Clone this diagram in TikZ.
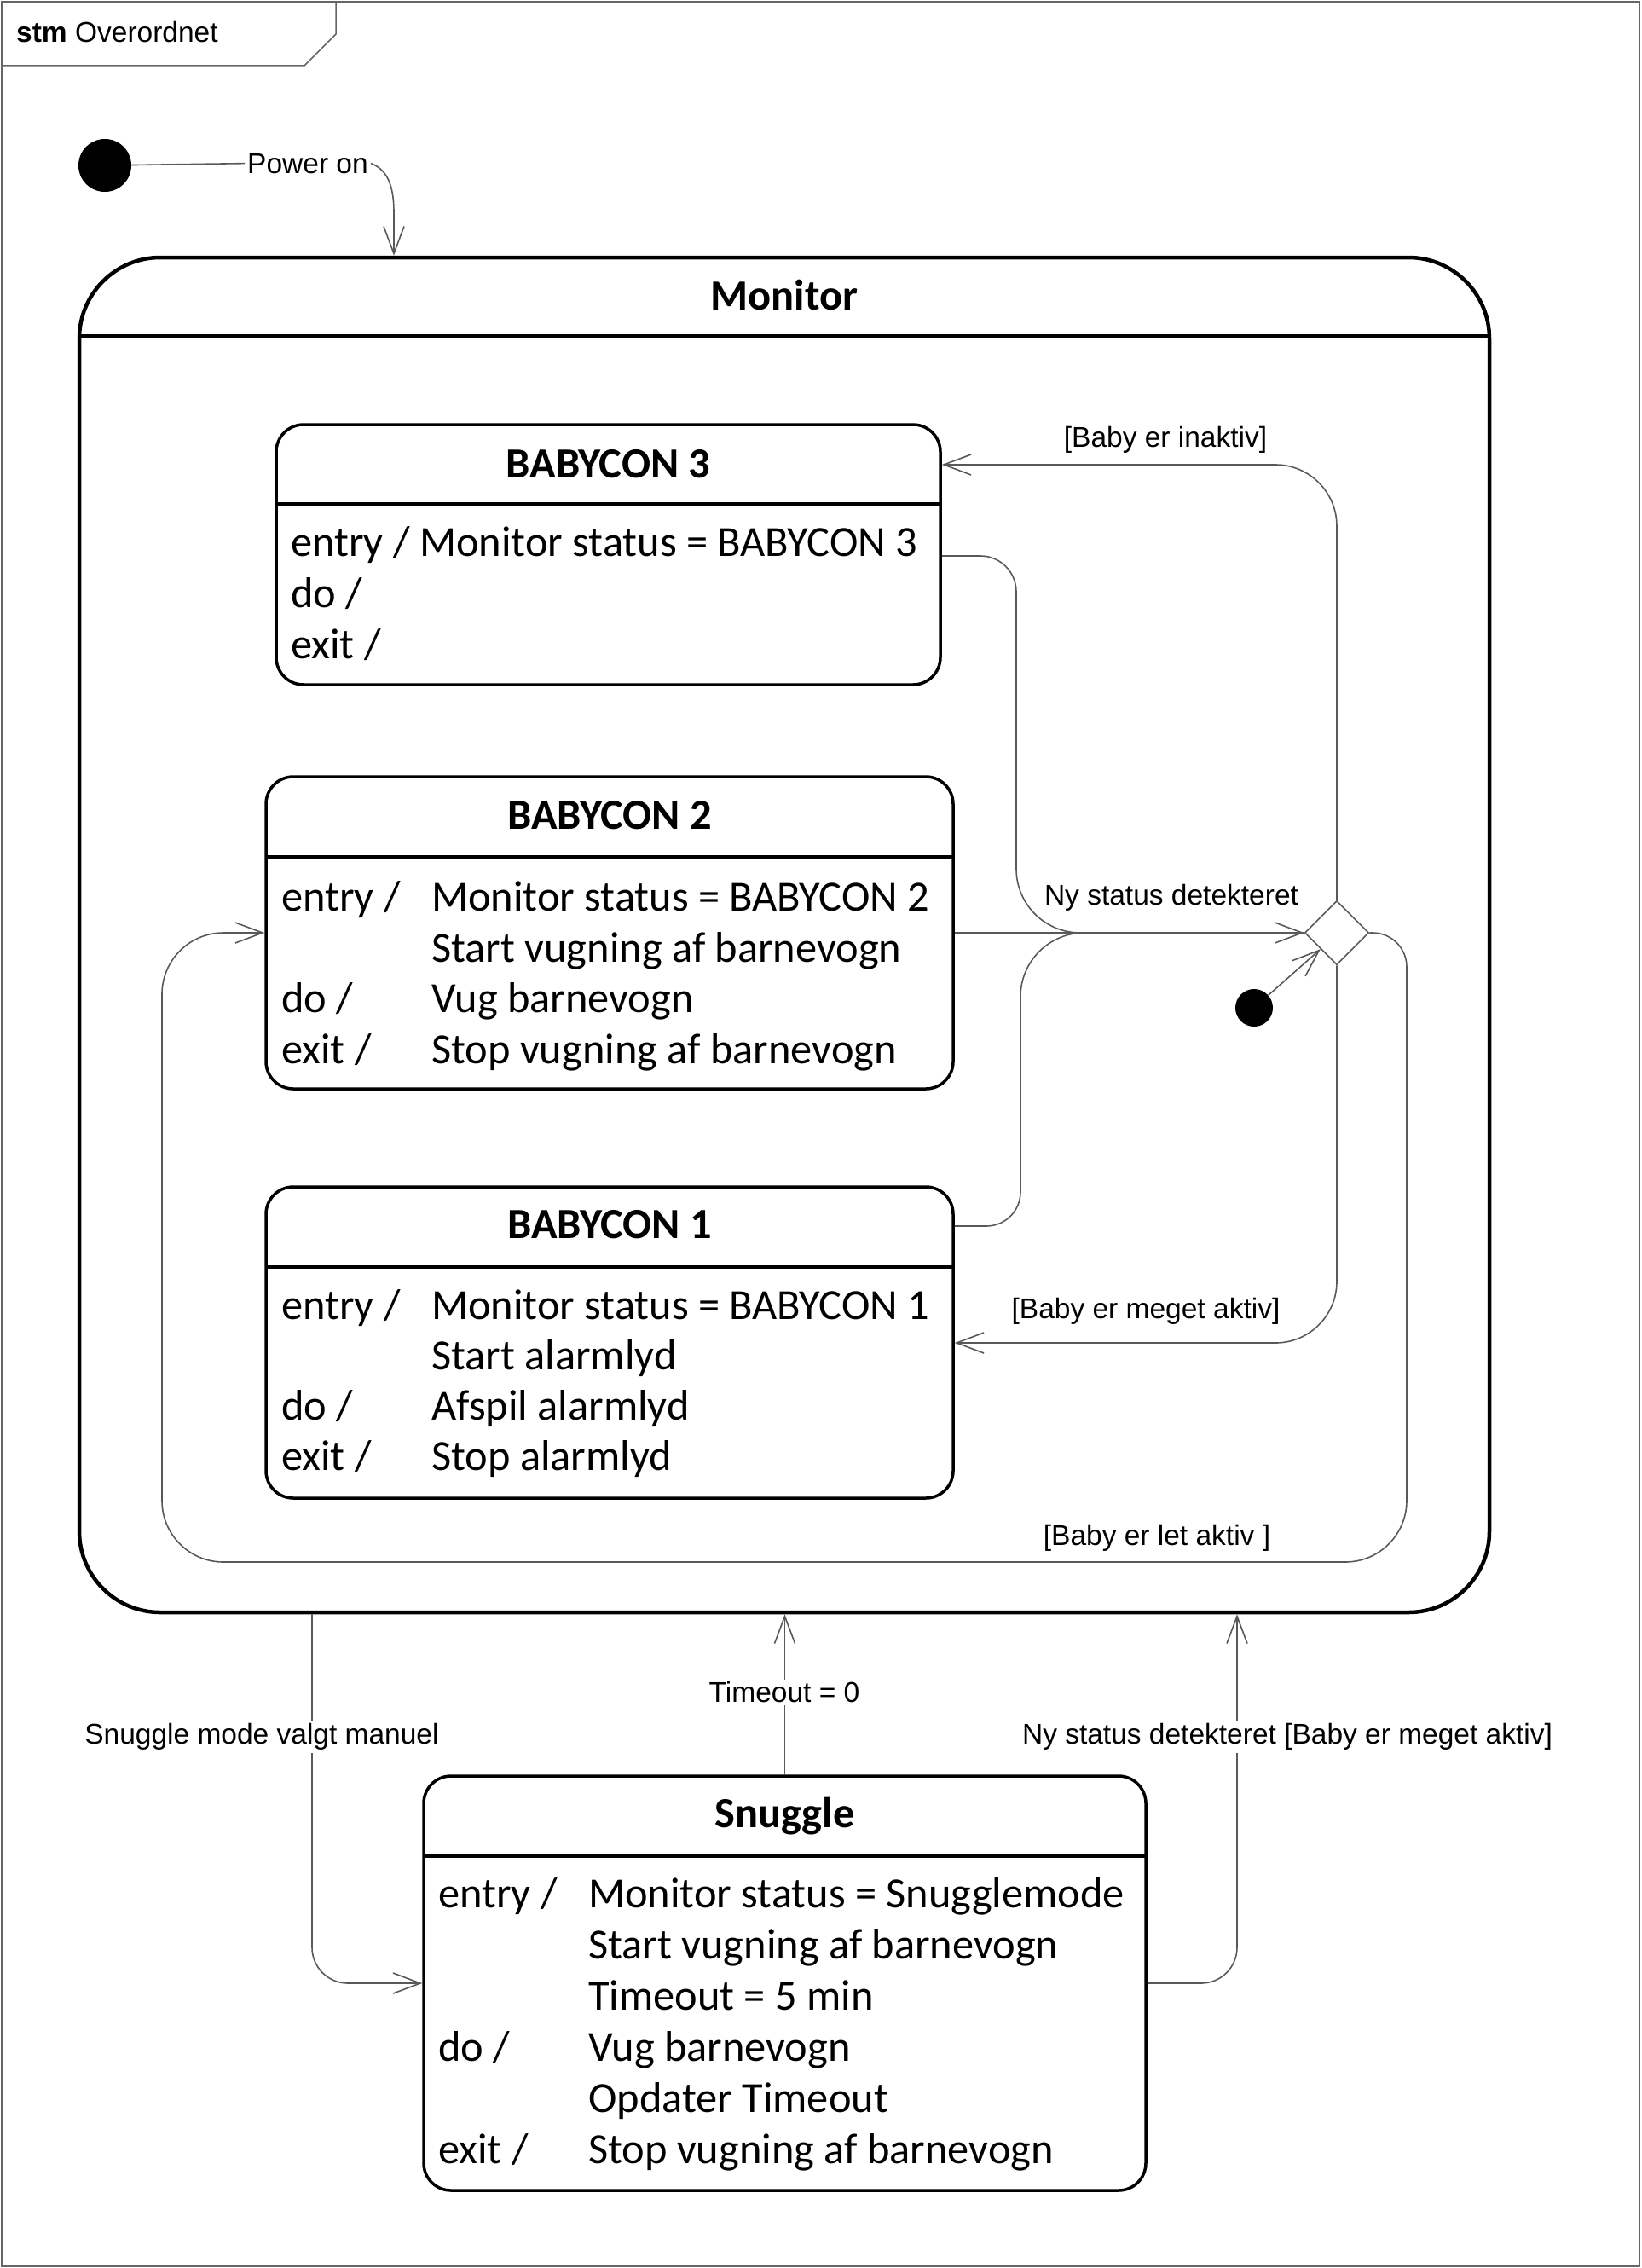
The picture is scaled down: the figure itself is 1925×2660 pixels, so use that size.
\documentclass[tikz,border=0pt]{standalone}
\usepackage{fontspec}
\setmainfont{Liberation Sans}
\newfontfamily\calib{Carlito}
\usetikzlibrary{arrows.meta,shapes.geometric}
\begin{document}
\begin{tikzpicture}[x=1pt,y=-1pt,
  lbl/.style={font=\fontsize{33.5}{40}\selectfont, inner sep=3pt},
  body/.style={font=\calib\fontsize{50.4}{60}\selectfont, anchor=base west, inner sep=0pt},
  ttl/.style={font=\calib\bfseries\fontsize{50.4}{60}\selectfont, anchor=base, inner sep=0pt},
  statebox/.style={draw, line width=3.5pt, rounded corners=32pt, inner sep=0pt},
  divline/.style={line width=3.5pt},
  conn/.style={draw=black!65, line width=1.6pt},
  arr/.style={-{Straight Barb[length=32pt,width=24pt,line width=1.6pt]}}
]
\useasboundingbox (0,0) rectangle (1925,2660);
% frame
\draw[draw=black!60, line width=1.5pt] (2,2) rectangle (1923,2658);
\draw[draw=black!60, line width=1.5pt] (2,77) -- (357,77) -- (394,40) -- (394,2);
\node[font=\fontsize{33.5}{40}\selectfont, anchor=base west, inner sep=0pt] (frametitle) at (19,50) {\textbf{stm} Overordnet};

% Monitor
\node[statebox, line width=4.5pt, rounded corners=95pt, minimum width=1654pt, minimum height=1589pt] (mon) at (920,1096.5) {};
\draw[line width=4.5pt] (93,394) -- (1747,394);
\node[ttl] (montitle) at (920,363) {Monitor};

% BABYCON 3
\node[statebox, minimum width=779pt, minimum height=305pt] (b3) at (713.5,650.5) {};
\draw[divline] (324,591) -- (1103,591);
\node[ttl] (b3t) at (713.5,560) {BABYCON 3};
\node[body] (b3l1) at (341,652) {entry / Monitor status = BABYCON 3};
\node[body] (b3l2) at (341,712) {do /};
\node[body] (b3l3) at (341,772) {exit /};

% BABYCON 2
\node[statebox, minimum width=806pt, minimum height=366pt] (b2) at (715,1094) {};
\draw[divline] (312,1005) -- (1118,1005);
\node[ttl] (b2t) at (715,972) {BABYCON 2};
\node[body] (b2a) at (330,1068) {entry /};
\node[body] (b2b) at (506,1068) {Monitor status = BABYCON 2};
\node[body] (b2c) at (506,1128) {Start vugning af barnevogn};
\node[body] (b2d) at (330,1187) {do /};
\node[body] (b2e) at (506,1187) {Vug barnevogn};
\node[body] (b2f) at (330,1247) {exit /};
\node[body] (b2g) at (506,1247) {Stop vugning af barnevogn};

% BABYCON 1
\node[statebox, minimum width=806pt, minimum height=365pt] (b1) at (715,1574.5) {};
\draw[divline] (312,1486) -- (1118,1486);
\node[ttl] (b1t) at (715,1452) {BABYCON 1};
\node[body] (b1a) at (330,1547) {entry /};
\node[body] (b1b) at (506,1547) {Monitor status = BABYCON 1};
\node[body] (b1c) at (506,1606) {Start alarmlyd};
\node[body] (b1d) at (330,1665) {do /};
\node[body] (b1e) at (506,1665) {Afspil alarmlyd};
\node[body] (b1f) at (330,1724) {exit /};
\node[body] (b1g) at (506,1724) {Stop alarmlyd};

% Snuggle
\node[statebox, minimum width=847pt, minimum height=486pt] (snug) at (920.5,2326) {};
\draw[divline] (497,2177) -- (1344,2177);
\node[ttl] (snt) at (920.5,2143) {Snuggle};
\node[body] (sa) at (514,2237) {entry /};
\node[body] (sb) at (690,2237) {Monitor status = Snugglemode};
\node[body] (sc) at (690,2297) {Start vugning af barnevogn};
\node[body] (sd) at (690,2357) {Timeout = 5 min};
\node[body] (se) at (514,2417) {do /};
\node[body] (sf) at (690,2417) {Vug barnevogn};
\node[body] (sg) at (690,2477) {Opdater Timeout};
\node[body] (sh) at (514,2537) {exit /};
\node[body] (si) at (690,2537) {Stop vugning af barnevogn};

% initial pseudostates
\node[circle, fill=black, minimum size=62pt, inner sep=0pt] (init) at (123,194) {};
\node[circle, fill=black, minimum size=44pt, inner sep=0pt] (ini2) at (1471,1182) {};

% choice diamond
\node[diamond, draw=black!65, line width=1.6pt, minimum width=75pt, minimum height=75pt, inner sep=0pt, aspect=1] (dia) at (1568,1094) {};

% Power on
\node[lbl, anchor=base] (pwr) at (361,203) {Power on};
\draw[conn] (init) -- (pwr.west);
\draw[conn,arr] (pwr.east) .. controls (458,200) and (462,225) .. (462,250) -- (mon.north -| 462,0);

% transitions inside Monitor
\draw[conn,arr,rounded corners=72pt] (dia.north) |- (b3.east |- 0,545);
\node[lbl] (l1) at (1367,516) {[Baby er inaktiv]};

\draw[conn,rounded corners=42pt] (b3.east |- 0,652) -- (1192,652) -- (1192,900);
\draw[conn,rounded corners=75pt] (1192,900) -- (1192,1094) -- (dia.west);

\draw[conn,rounded corners=40pt] (b1.east |- 0,1438) -- (1197,1438) -- (1197,1300);
\draw[conn,rounded corners=75pt] (1197,1300) -- (1197,1094) -- (dia.west);

\draw[conn,arr] (b2.east) -- (dia.west);
\node[lbl] (l2) at (1374,1053) {Ny status detekteret};

\draw[conn,arr] (ini2) -- (dia.south west);

\draw[conn,arr,rounded corners=72pt] (dia.south) |- (b1.east |- 0,1575);
\node[lbl] (l3) at (1344,1538) {[Baby er meget aktiv]};

\draw[conn,rounded corners=40pt] (dia.east) -- (1650,1094) -- (1650,1300);
\draw[conn,arr,rounded corners=72pt] (1650,1300) -- (1650,1832) -- (190,1832) -- (190,1094) -- (b2.west);
\node[lbl] (l4) at (1357,1804) {[Baby er let aktiv ]};

% transitions with Snuggle
\draw[conn,arr,rounded corners=42pt] (mon.south -| 366,0) |- (snug.west);
\node[lbl, fill=white] (l5) at (307,2037) {Snuggle mode valgt manuel};

\draw[conn,arr] (snug.north) -- (snug.north |- mon.south);
\node[lbl, fill=white] (l6) at (920,1985) {Timeout = 0};

\draw[conn,arr,rounded corners=42pt] (snug.east) -| (mon.south -| 1451,0);
\node[lbl, fill=white] (l7) at (1510,2037) {Ny status detekteret [Baby er meget aktiv]};
\end{tikzpicture}
\end{document}
